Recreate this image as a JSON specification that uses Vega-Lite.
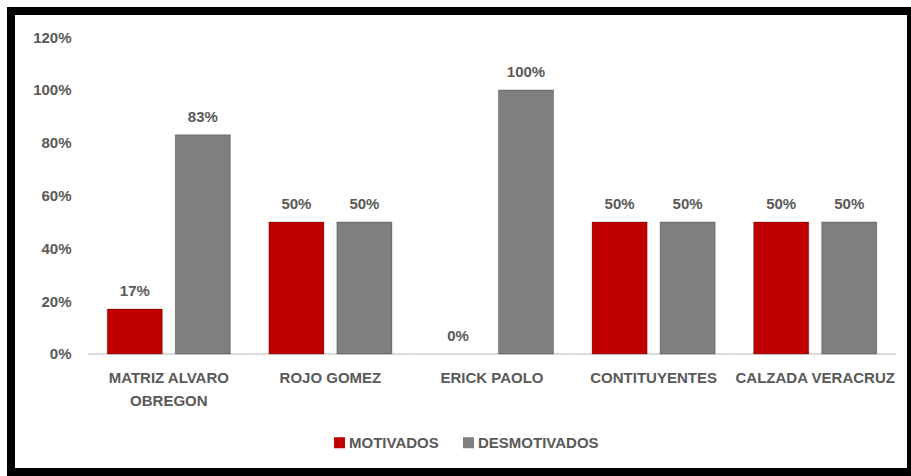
{
  "$schema": "https://vega.github.io/schema/vega-lite/v6.json",
  "width": 900,
  "height": 461,
  "autosize": {"type": "none"},
  "padding": {"left": 11, "top": 11, "right": 0, "bottom": 4},
  "background": "white",
  "config": {
    "view": {"stroke": "black", "strokeWidth": 8, "fill": "white"},
    "font": "Liberation Sans",
    "text": {"font": "Liberation Sans"}
  },
  "datasets": {
    "valores": [
      {"sucursal": "MATRIZ ALVARO OBREGON", "tipo": "MOTIVADOS", "valor": 0.17},
      {"sucursal": "MATRIZ ALVARO OBREGON", "tipo": "DESMOTIVADOS", "valor": 0.83},
      {"sucursal": "ROJO GOMEZ", "tipo": "MOTIVADOS", "valor": 0.50},
      {"sucursal": "ROJO GOMEZ", "tipo": "DESMOTIVADOS", "valor": 0.50},
      {"sucursal": "ERICK PAOLO", "tipo": "MOTIVADOS", "valor": 0.0},
      {"sucursal": "ERICK PAOLO", "tipo": "DESMOTIVADOS", "valor": 1.0},
      {"sucursal": "CONTITUYENTES", "tipo": "MOTIVADOS", "valor": 0.50},
      {"sucursal": "CONTITUYENTES", "tipo": "DESMOTIVADOS", "valor": 0.50},
      {"sucursal": "CALZADA VERACRUZ", "tipo": "MOTIVADOS", "valor": 0.50},
      {"sucursal": "CALZADA VERACRUZ", "tipo": "DESMOTIVADOS", "valor": 0.50}
    ],
    "sucursales": [
      {"sucursal": "MATRIZ ALVARO OBREGON"},
      {"sucursal": "ROJO GOMEZ"},
      {"sucursal": "ERICK PAOLO"},
      {"sucursal": "CONTITUYENTES"},
      {"sucursal": "CALZADA VERACRUZ"}
    ]
  },
  "encoding": {
    "x": {
      "field": "sucursal",
      "type": "nominal",
      "sort": ["MATRIZ ALVARO OBREGON", "ROJO GOMEZ", "ERICK PAOLO", "CONTITUYENTES", "CALZADA VERACRUZ"],
      "scale": {"paddingInner": 0, "paddingOuter": 0.2847, "align": 0.837, "round": false},
      "axis": {
        "orient": "bottom",
        "offset": -118,
        "title": null,
        "domain": false,
        "ticks": false,
        "labelAngle": 0,
        "labelPadding": 16,
        "labelFontSize": 15,
        "labelFontWeight": "bold",
        "labelColor": "#595959",
        "labelLineHeight": 23,
        "labelFont": "Liberation Sans",
        "labelExpr": "datum.label == 'MATRIZ ALVARO OBREGON' ? ['MATRIZ ALVARO', 'OBREGON'] : datum.label"
      }
    }
  },
  "layer": [
    {
      "data": {"name": "sucursales"},
      "mark": {"type": "bar", "fill": null, "stroke": "#d0d0d0", "strokeWidth": 1.5},
      "encoding": {
        "y": {"datum": 0, "type": "quantitative"},
        "y2": {"datum": 0}
      }
    },
    {
      "data": {"name": "valores"},
      "mark": {"type": "bar", "stroke": "#000000", "strokeWidth": 1},
      "encoding": {
        "xOffset": {
          "field": "tipo",
          "type": "nominal",
          "sort": ["MOTIVADOS", "DESMOTIVADOS"],
          "scale": {"paddingInner": 0.19, "paddingOuter": 0.283}
        },
        "y": {
          "field": "valor",
          "type": "quantitative",
          "scale": {"domain": [-0.447, 1.299], "nice": false, "zero": false},
          "axis": {
            "orient": "left",
            "offset": -70,
            "title": null,
            "domain": false,
            "ticks": false,
            "grid": false,
            "values": [0, 0.2, 0.4, 0.6, 0.8, 1.0, 1.2],
            "format": ".0%",
            "labelPadding": 10,
            "labelFontSize": 15,
            "labelFontWeight": "bold",
            "labelColor": "#595959",
            "labelFont": "Liberation Sans"
          }
        },
        "y2": {"datum": 0},
        "strokeOpacity": {"condition": {"test": "datum.valor > 0", "value": 0.25}, "value": 0},
        "color": {
          "field": "tipo",
          "type": "nominal",
          "sort": ["MOTIVADOS", "DESMOTIVADOS"],
          "scale": {"domain": ["MOTIVADOS", "DESMOTIVADOS"], "range": ["#C00000", "#7F7F7F"]},
          "legend": {
            "orient": "none",
            "legendX": 321,
            "legendY": 424,
            "direction": "horizontal",
            "title": null,
            "symbolType": "square",
            "symbolSize": 121,
            "symbolStrokeWidth": 0,
            "labelFontSize": 15,
            "labelFontWeight": "bold",
            "labelColor": "#595959",
            "labelFont": "Liberation Sans",
            "labelOffset": 2,
            "columnPadding": 22,
            "padding": 0
          }
        }
      }
    },
    {
      "data": {"name": "valores"},
      "mark": {"type": "text", "dy": -13, "baseline": "alphabetic", "fontSize": 15, "fontWeight": "bold", "color": "#595959"},
      "encoding": {
        "xOffset": {"field": "tipo", "type": "nominal", "sort": ["MOTIVADOS", "DESMOTIVADOS"]},
        "y": {"field": "valor", "type": "quantitative"},
        "text": {"field": "valor", "type": "quantitative", "format": ".0%"}
      }
    }
  ]
}
